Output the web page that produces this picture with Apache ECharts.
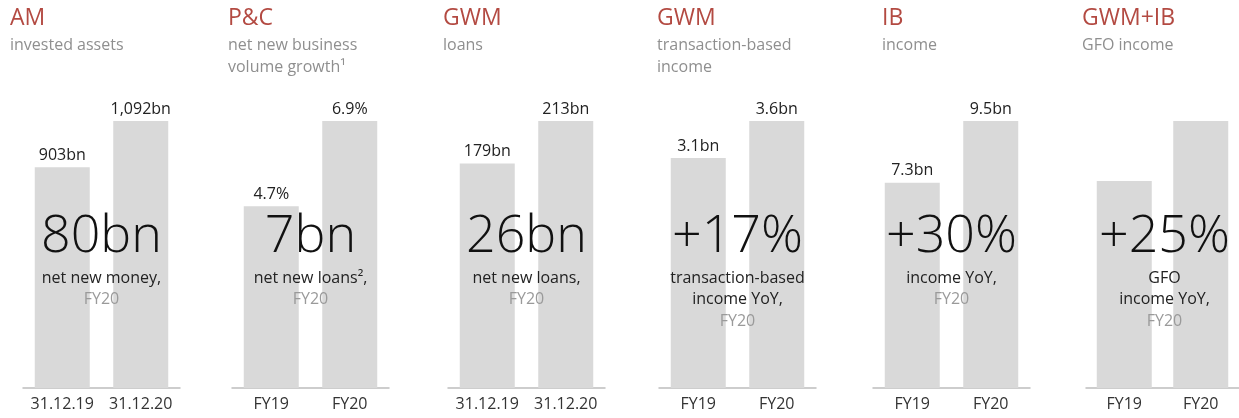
<!DOCTYPE html>
<html>
<head>
<meta charset="utf-8">
<title>FY20 highlights</title>
<script src="https://cdn.jsdelivr.net/npm/echarts@6/dist/echarts.min.js"></script>
<style>
    html, body { margin: 0; padding: 0; background: #fff; }
    #main { width: 1239px; height: 418px; }
</style>
</head>
<body>
<div id="main"></div>
<script>
// data for each small panel
let heads = ['AM', 'P&C', 'GWM', 'GWM', 'IB', 'GWM+IB'];
let subs = ['invested assets', 'net new business\nvolume growth¹', 'loans', 'transaction-based\nincome', 'income', 'GFO income'];
let cats = [
    ['31.12.19', '31.12.20'],
    ['FY19', 'FY20'],
    ['31.12.19', '31.12.20'],
    ['FY19', 'FY20'],
    ['FY19', 'FY20'],
    ['FY19', 'FY20']
];
let values = [
    [903, 1092],
    [4.7, 6.9],
    [179, 213],
    [3.1, 3.6],
    [7.3, 9.5],
    [3.1, 4.0]
];
let valueLabels = [
    ['903bn', '1,092bn'],
    ['4.7%', '6.9%'],
    ['179bn', '213bn'],
    ['3.1bn', '3.6bn'],
    ['7.3bn', '9.5bn'],
    ['', '']
];
let bigNumbers = ['80bn', '7bn', '26bn', '+17%', '+30%', '+25%'];
let bigLines = [
    ['net new money,'],
    ['net new loans²,'],
    ['net new loans,'],
    ['transaction-based', 'income YoY,'],
    ['income YoY,'],
    ['GFO', 'income YoY,']
];
let bigPeriod = 'FY20';

// layout
let gridLeft = [23, 232, 448, 659, 873, 1086];
let titleLeft = [10, 228, 443, 657, 882, 1082];
let gridTop = 121, gridHeight = 267, gridWidth = 157;
let font = '"Open Sans", "Noto Sans", sans-serif';

let chart = echarts.init(document.getElementById('main'), null, { renderer: 'canvas' });

let grid = [], xAxis = [], yAxis = [], series = [], title = [], graphic = [];
for (let i = 0; i < heads.length; i++) {
    grid.push({ left: gridLeft[i], top: gridTop, width: gridWidth, height: gridHeight });
    xAxis.push({
        type: 'category',
        gridIndex: i,
        data: cats[i],
        axisLine: { lineStyle: { color: '#bdbdbd', width: 1.5 } },
        axisTick: { show: false },
        axisLabel: { color: '#333', fontSize: 16, fontFamily: font, margin: 8, interval: 0, hideOverlap: false }
    });
    yAxis.push({
        type: 'value',
        gridIndex: i,
        min: 0,
        max: 'dataMax',
        show: false,
        splitLine: { show: false }
    });
    let labels = valueLabels[i];
    series.push({
        type: 'bar',
        xAxisIndex: i,
        yAxisIndex: i,
        data: values[i],
        barWidth: 55,
        itemStyle: { color: '#d9d9d9' },
        silent: true,
        label: {
            show: true,
            position: 'top',
            distance: 4,
            color: '#222',
            fontSize: 16,
            fontFamily: font,
            formatter: function (p) {
                return labels[p.dataIndex];
            }
        }
    });
    title.push({
        left: titleLeft[i],
        top: 7,
        text: heads[i],
        subtext: subs[i],
        itemGap: 4,
        padding: 0,
        textStyle: { color: '#b34a42', fontSize: 23, fontWeight: 'normal', fontFamily: font },
        subtextStyle: { color: '#8f8f8f', fontSize: 16, lineHeight: 22, fontFamily: font }
    });

    // big figure written over the bars
    let cx = gridLeft[i] + gridWidth / 2;
    graphic.push({
        type: 'text',
        z: 100,
        x: cx,
        y: 237,
        style: {
            text: bigNumbers[i],
            fill: '#111',
            font: '300 52px ' + font,
            textAlign: 'center',
            textVerticalAlign: 'middle'
        }
    });
    let lines = bigLines[i].concat([bigPeriod]);
    for (let k = 0; k < lines.length; k++) {
        graphic.push({
            type: 'text',
            z: 100,
            x: cx,
            y: 278 + k * 21.5,
            style: {
                text: lines[k],
                fill: k == lines.length - 1 ? '#9a9a9a' : '#222',
                font: '16px ' + font,
                textAlign: 'center',
                textVerticalAlign: 'middle'
            }
        });
    }
}

chart.setOption({
    animation: false,
    title: title,
    grid: grid,
    xAxis: xAxis,
    yAxis: yAxis,
    series: series,
    graphic: graphic
});
</script>
</body>
</html>
